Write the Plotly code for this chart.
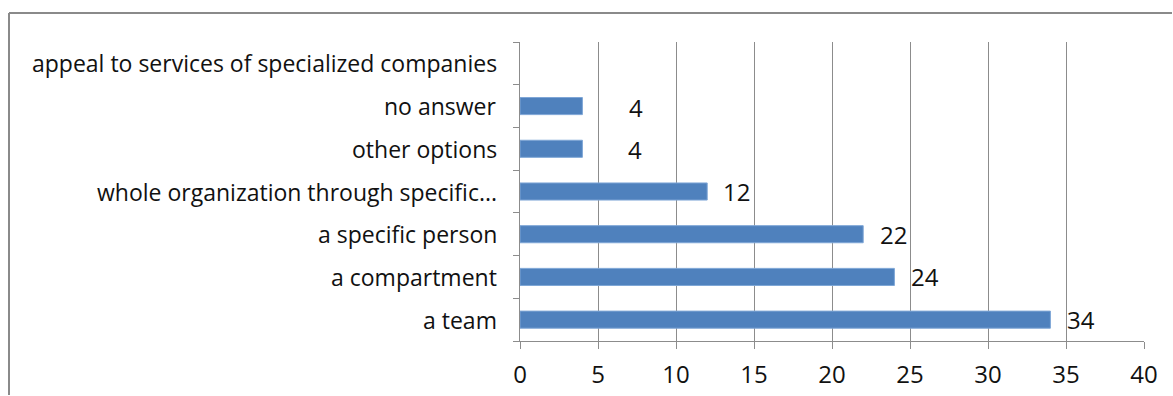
import plotly.graph_objects as go

categories = [
    "a team",
    "a compartment",
    "a specific person",
    "whole organization through specific...",
    "other options",
    "no answer",
    "appeal to services of specialized companies",
]
values = [34, 24, 22, 12, 4, 4, None]
label_texts = ["34", "24", "22", "12", "4", "4", ""]
x_ticks = [0, 5, 10, 15, 20, 25, 30, 35, 40]

FONT = "Open Sans"
GRID = "#8c8c8c"
BAR = "#4F81BD"
TEXT = "#111111"
FRAME = "#8a8a8a"

# label offsets (pixels) to mimic the original label placement
label_xshift = [15, 15, 15, 14, 44, 45, 0]
label_yshift = [0, 0, 0, 0, -1, -1, 0]

fig = go.Figure()
fig.add_trace(go.Bar(
    x=values,
    y=categories,
    orientation="h",
    marker=dict(color=BAR, line=dict(color="#7ea6d6", width=1)),
    width=0.4,
    hoverinfo="x+y",
))

annotations = []
for c, v, t, dx, dy in zip(categories, values, label_texts, label_xshift, label_yshift):
    if v is None or t == "":
        continue
    annotations.append(dict(
        x=v, y=c, xref="x", yref="y", text=t, showarrow=False,
        xanchor="left", yanchor="middle", xshift=dx, yshift=dy,
        font=dict(family=FONT, size=24, color=TEXT),
    ))

# category labels (as annotations for precise placement)
for c in categories:
    annotations.append(dict(
        x=0, y=c, xref="x", yref="y", text=c, showarrow=False,
        xanchor="right", yanchor="middle", xshift=-21, yshift=0,
        font=dict(family=FONT, size=23, color=TEXT),
    ))

# frame (top and left edges of the original chart area) kept inside the page
fx0 = (9 - 520) / 624
fx1 = (1172 - 520) / 624
fy0 = (341 - 395) / 299
fy1 = (341 - 13) / 299
fig.update_layout(
    width=1173, height=396,
    margin=dict(l=520, r=29, t=42, b=55, pad=0, autoexpand=False),
    paper_bgcolor="white",
    plot_bgcolor="white",
    showlegend=False,
    font=dict(family=FONT, size=24, color=TEXT),
    annotations=annotations,
    shapes=[
        dict(type="line", xref="paper", yref="paper", x0=fx0, x1=fx1, y0=fy1, y1=fy1,
             line=dict(color=FRAME, width=2), layer="below"),
        dict(type="line", xref="paper", yref="paper", x0=fx0, x1=fx0, y0=fy0, y1=fy1,
             line=dict(color=FRAME, width=2), layer="below"),
    ],
    bargap=0.6,
)
fig.update_xaxes(
    range=[0, 40], tickvals=x_ticks, ticktext=[str(t) for t in x_ticks],
    showgrid=True, gridcolor=GRID, gridwidth=1,
    showline=True, linecolor=GRID, linewidth=1,
    ticks="outside", ticklen=7, tickcolor=GRID,
    ticklabelstandoff=5,
    zeroline=False,
    automargin=False,
    tickfont=dict(family=FONT, size=24, color=TEXT),
    fixedrange=True,
)
fig.update_yaxes(
    type="category", categoryorder="array", categoryarray=categories,
    range=[-0.5, 6.5],
    showgrid=False,
    showline=True, linecolor=GRID, linewidth=1,
    ticks="outside", ticklen=6, tickcolor=GRID,
    tickson="boundaries",
    showticklabels=False,
    automargin=False,
    fixedrange=True,
)

fig.write_html("out.html")
